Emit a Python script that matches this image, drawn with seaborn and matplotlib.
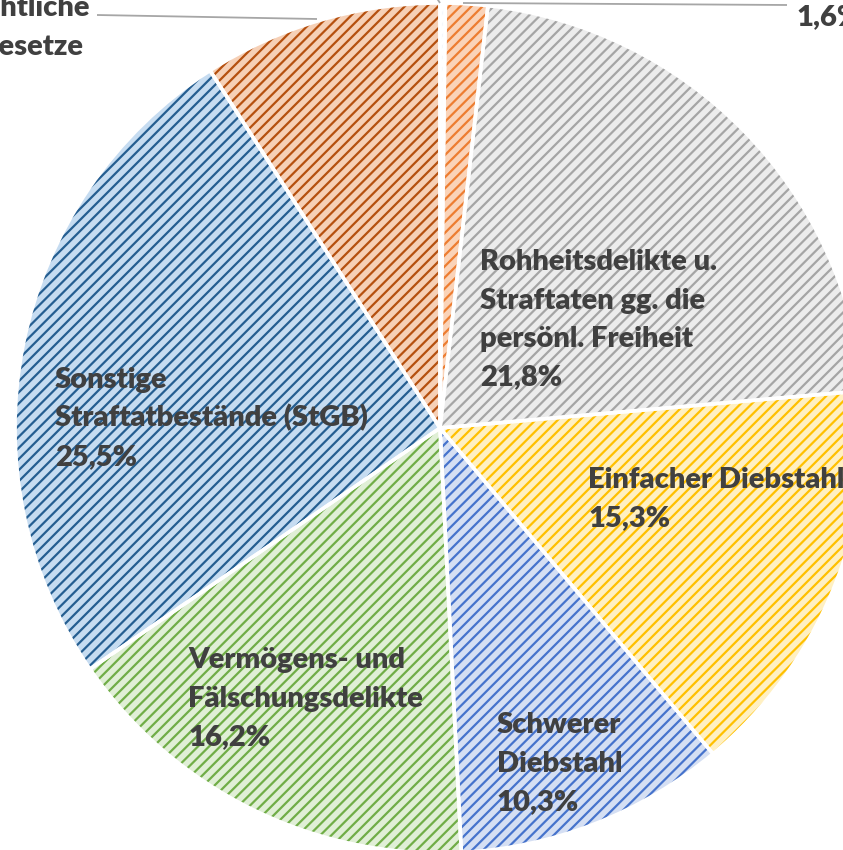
import matplotlib
matplotlib.use("Agg")
import matplotlib.pyplot as plt
import seaborn as sns

sns.set_theme(style="white")
plt.rcParams["font.family"] = ["Lato", "DejaVu Sans"]
plt.rcParams["hatch.linewidth"] = 1.6

# ---- data (share of suspects by offence group, clockwise from 12 o'clock) ----
categories = ["Straftaten gg.\ndas Leben",
              "Straftaten gg. die\nsexuelle\nSelbstbestimmung",
              "Rohheitsdelikte u.\nStraftaten gg. die\npersönl. Freiheit",
              "Einfacher Diebstahl",
              "Schwerer\nDiebstahl",
              "Vermögens- und\nFälschungsdelikte",
              "Sonstige\nStraftatbestände (StGB)",
              "Strafrechtliche\nNebengesetze"]
shares = [0.2, 1.6, 21.8, 15.3, 10.3, 16.2, 25.5, 9.1]

hatch_colors = ["#F4F7FC", "#ED7D31", "#A5A5A5", "#FFC000",
                "#4673CC", "#70AD47", "#255E91", "#B5500F"]
fill_colors = ["#FFFFFF", "#FAD3B8", "#ECECEC", "#FFF0C2",
               "#D5DFF3", "#E0EFD6", "#C6DCF1", "#F6D0B6"]

# label anchor: left edge x, baseline of first line (pixels from top)
label_pos = [(250, -95), (796, -90.5), (480, 270), (588, 488),
             (497, 733), (188, 668), (55, 388), (-104, 16)]
W, H = 843, 850
cx, cy, r = 440, 428, 425
line_gap = 38.5

fig = plt.figure(figsize=(W / 100, H / 100), dpi=100)
ax = fig.add_axes([0, 0, 1, 1])

wedges, _ = ax.pie(shares, colors=fill_colors, startangle=90, counterclock=False,
                   radius=r, center=(cx, H - cy), frame=True)
for w, hc in zip(wedges, hatch_colors):
    w.set_edgecolor(hc)
    w.set_hatch("///")
    w.set_linewidth(0)

# white separators on top
ax.pie(shares, startangle=90, counterclock=False, radius=r, center=(cx, H - cy),
       frame=True, wedgeprops=dict(fill=False, edgecolor="white", linewidth=2.6))
ax.set_xlim(0, W)
ax.set_ylim(0, H)
ax.set_aspect("equal")
ax.axis("off")

# leader lines for the labels placed outside the pie
leaders = [((440, 3), (425, -20)), ((463, 3), (787, 5)), ((317, 19), (97, 15))]
for (x0, y0), (x1, y1) in leaders:
    ax.plot([x0, x1], [H - y0, H - y1], color="#A6A6A6", lw=1.3, solid_capstyle="butt")

for name, share, (lx, ly) in zip(categories, shares, label_pos):
    lines = name.split("\n") + [f"{share:.1f}%".replace(".", ",")]
    for i, line in enumerate(lines):
        base = ly + i * line_gap
        if base < 8:  # line lies above the visible area
            continue
        ax.text(lx, H - base, line, ha="left", va="baseline",
                fontsize=21, fontweight="heavy", color="#404040")

fig.savefig("out.png", dpi=100)
